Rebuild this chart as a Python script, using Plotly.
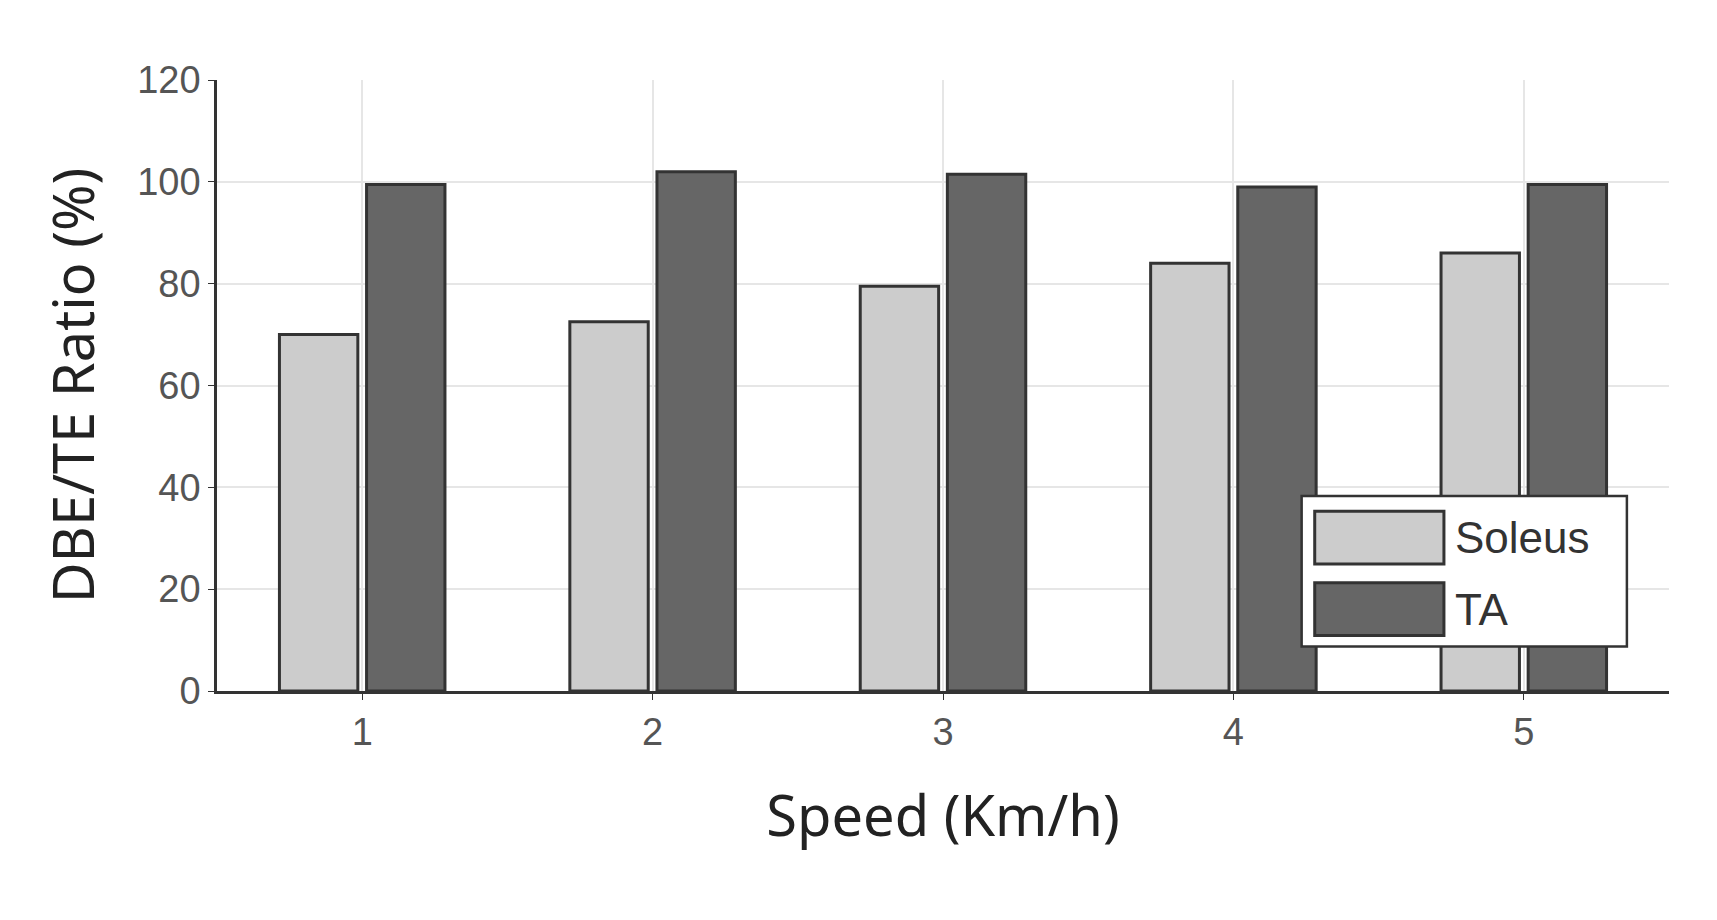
import plotly.graph_objects as go

speeds = [1, 2, 3, 4, 5]
soleus = [70, 72.5, 79.5, 84, 86]
ta = [99.5, 102, 101.5, 99, 99.5]
y_ticks = [0, 20, 40, 60, 80, 100, 120]
names = ["Soleus", "TA"]
colors = ["#cccccc", "#666666"]

fig = go.Figure()
fig.add_bar(x=speeds, y=soleus, name=names[0], marker=dict(color=colors[0], line=dict(color="#333333", width=3)))
fig.add_bar(x=speeds, y=ta, name=names[1], marker=dict(color=colors[1], line=dict(color="#333333", width=3)))

# legend drawn with large swatches as in the reference
fig.add_shape(type="rect", xref="paper", yref="paper", x0=0.747, x1=0.971, y0=0.073, y1=0.319,
              line=dict(color="#333333", width=2.5), fillcolor="white", layer="above")
for i, (nm, c) in enumerate(zip(names, colors)):
    yt = 0.294 - i * 0.117
    fig.add_shape(type="rect", xref="paper", yref="paper", x0=0.756, x1=0.845, y0=yt - 0.086, y1=yt,
                  line=dict(color="#333333", width=3), fillcolor=c, layer="above")
    fig.add_annotation(xref="paper", yref="paper", x=0.851, y=yt - 0.043, text=nm, showarrow=False,
                       xanchor="left", yanchor="middle", font=dict(family="Liberation Sans, Arial", size=44, color="#333333"))

fig.update_layout(
    width=1717, height=920, barmode="group", bargap=0.4, bargroupgap=0.1,
    plot_bgcolor="white", paper_bgcolor="white", showlegend=False,
    margin=dict(l=209, r=56, t=72, b=237),
    font=dict(family="Liberation Sans, Arial", color="#555555"),
    xaxis=dict(range=[0.5, 5.5], tickvals=speeds, showgrid=True, gridcolor="#e6e6e6", gridwidth=2,
               showline=True, linecolor="#333333", linewidth=2.5, ticks="outside", ticklen=6, tickcolor="#333333",
               tickfont=dict(size=38, color="#555555"),
               title=dict(text="Speed (Km/h)", font=dict(family="Noto Sans, Open Sans", size=56, color="#222222"), standoff=45)),
    yaxis=dict(range=[0, 120], tickvals=y_ticks, showgrid=True, gridcolor="#e6e6e6", gridwidth=2,
               showline=True, linecolor="#333333", linewidth=2.5, ticks="outside", ticklen=6, tickcolor="#333333",
               tickfont=dict(size=38, color="#555555"), zeroline=False,
               title=dict(text="DBE/TE Ratio (%)", font=dict(family="Noto Sans, Open Sans", size=56, color="#222222"), standoff=25)),
)
fig.write_html("out.html")
